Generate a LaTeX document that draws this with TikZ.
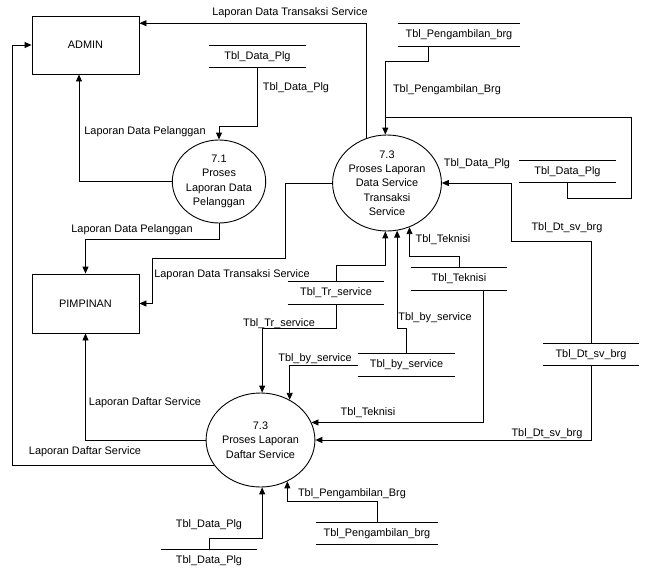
\documentclass[tikz,border=0pt]{standalone}
\usepackage{fontspec}
\setmainfont{Liberation Sans}
\usetikzlibrary{arrows.meta,shapes.geometric}
\begin{document}
\begin{tikzpicture}[x=1pt,y=-1pt,
  font=\fontsize{10.9}{14.3}\selectfont,
  line width=0.9pt,
  entity/.style={draw, rectangle, minimum width=107pt, minimum height=58pt, inner sep=0pt},
  proc/.style={draw, ellipse, align=center, inner sep=0pt},
  store/.style={rectangle, inner sep=0pt, minimum height=21.5pt},
  lbl/.style={inner sep=0pt, text height=8pt, text depth=2pt},
  flow/.style={-{Triangle[length=7pt,width=6pt]}},
]
\useasboundingbox (0,0) rectangle (646,571);

% external entities
\node[entity] (admin) at (85.5,45) {ADMIN};
\node[entity, minimum height=59pt] (pimp) at (85.5,303.5) {PIMPINAN};

% processes
\node[proc, minimum width=78pt, minimum height=83pt] (P71) at (219,181.5)
  {7.1\\Proses\\Laporan Data\\Pelanggan};
\node[proc, minimum width=100pt, minimum height=96pt] (P73a) at (387,183)
  {7.3\\Proses Laporan\\Data Service\\Transaksi\\Service};
\node[proc, minimum width=84pt, minimum height=94pt] (P73b) at (260.5,440)
  {7.3\\Proses Laporan\\Daftar Service};

% data stores
\node[store, minimum width=97pt] (sPlgA) at (257.5,56.3) {Tbl\_Data\_Plg};
\node[store, minimum width=122pt] (sPbA) at (459,35) {Tbl\_Pengambilan\_brg};
\node[store, minimum width=97pt] (sPlgB) at (567.5,171.5) {Tbl\_Data\_Plg};
\node[store, minimum width=96pt] (sTr) at (336,293) {Tbl\_Tr\_service};
\node[store, minimum width=96pt] (sTek) at (459,279) {Tbl\_Teknisi};
\node[store, minimum width=97pt] (sBy) at (406.5,365) {Tbl\_by\_service};
\node[store, minimum width=96pt] (sDt) at (591,354.5) {Tbl\_Dt\_sv\_brg};
\node[store, minimum width=96pt] (sPlgC) at (209,561) {Tbl\_Data\_Plg};
\node[store, minimum width=122pt] (sPbB) at (377,533.5) {Tbl\_Pengambilan\_brg};
\foreach \s in {sPlgA,sPbA,sPlgB,sTr,sTek,sBy,sDt,sPbB}
  \draw (\s.north west) -- (\s.north east) (\s.south west) -- (\s.south east);
\draw (sPlgC.north west) -- (sPlgC.north east);

% junction where the two store flows meet above process 7.3
\coordinate (jn) at (P73a.92 |- 0,117);

% flows
\draw[flow] (P73a.114) |- (admin.22.6);
\draw[flow] (sPlgA.south) -- ++(0,59) -| (P71.north);
\draw[flow] (P71.west) -| ([xshift=-6.5pt]admin.south);
\draw[flow] (P71.south) -- ++(0,16) -| (pimp.north);
\draw[flow] (P73a.west) -| (285,258) -| ([xshift=13pt]pimp.east) -- (pimp.east);
\draw[flow] (P73b.west) -| (pimp.south);
\draw[flow] (P73b.209) -| ([xshift=-19pt]admin.west) -- (admin.west);
\draw[flow] ([xshift=-31pt]sPbA.south) -- ++(0,15) -| (P73a.92);
\draw (sPlgB.south) |- (631,198) |- (jn);
\draw[flow] (sDt.north) |- (511,241) |- (P73a.east);
\draw[flow] (sDt.south) |- (P73b.east);
\draw[flow] ([xshift=24pt]sTek.south) |- (P73b.19);
\draw[flow] (sTek.north) -- ++(0,-11) -| (P73a.297);
\draw[flow] (sBy.north) -- ++(0,-25) -| (P73a.282);
\draw[flow] (sTr.north) -- ++(0,-16) -| (P73a.268);
\draw[flow] (sTr.south) -- ++(0,24) -| (P73b.88);
\draw[flow] (sBy.west) -| (P73b.54);
\draw[flow] (sPlgC.north) -- ++(0,-11) -| (P73b.272);
\draw[flow] (sPbB.north) -- ++(0,-21) -| (P73b.303);

% flow labels
\node[lbl] (t1) at (290,12) {Laporan Data Transaksi Service};
\node[lbl] (t2) at (296,87) {Tbl\_Data\_Plg};
\node[lbl] (t3) at (145,131) {Laporan Data Pelanggan};
\node[lbl] (t4) at (132,229) {Laporan Data Pelanggan};
\node[lbl] (t5) at (232,274) {Laporan Data Transaksi Service};
\node[lbl] (t6) at (145,402) {Laporan Daftar Service};
\node[lbl] (t7) at (85,451) {Laporan Daftar Service};
\node[lbl] (t8) at (447,89) {Tbl\_Pengambilan\_Brg};
\node[lbl] (t9) at (477,163) {Tbl\_Data\_Plg};
\node[lbl] (t10) at (567,227) {Tbl\_Dt\_sv\_brg};
\node[lbl] (t11) at (443,239) {Tbl\_Teknisi};
\node[lbl] (t12) at (435,317) {Tbl\_by\_service};
\node[lbl] (t13) at (279,323) {Tbl\_Tr\_service};
\node[lbl] (t14) at (315,358) {Tbl\_by\_service};
\node[lbl] (t15) at (368,412) {Tbl\_Teknisi};
\node[lbl] (t16) at (547,433) {Tbl\_Dt\_sv\_brg};
\node[lbl] (t17) at (209,524) {Tbl\_Data\_Plg};
\node[lbl] (t18) at (352,493) {Tbl\_Pengambilan\_Brg};
\end{tikzpicture}
\end{document}
